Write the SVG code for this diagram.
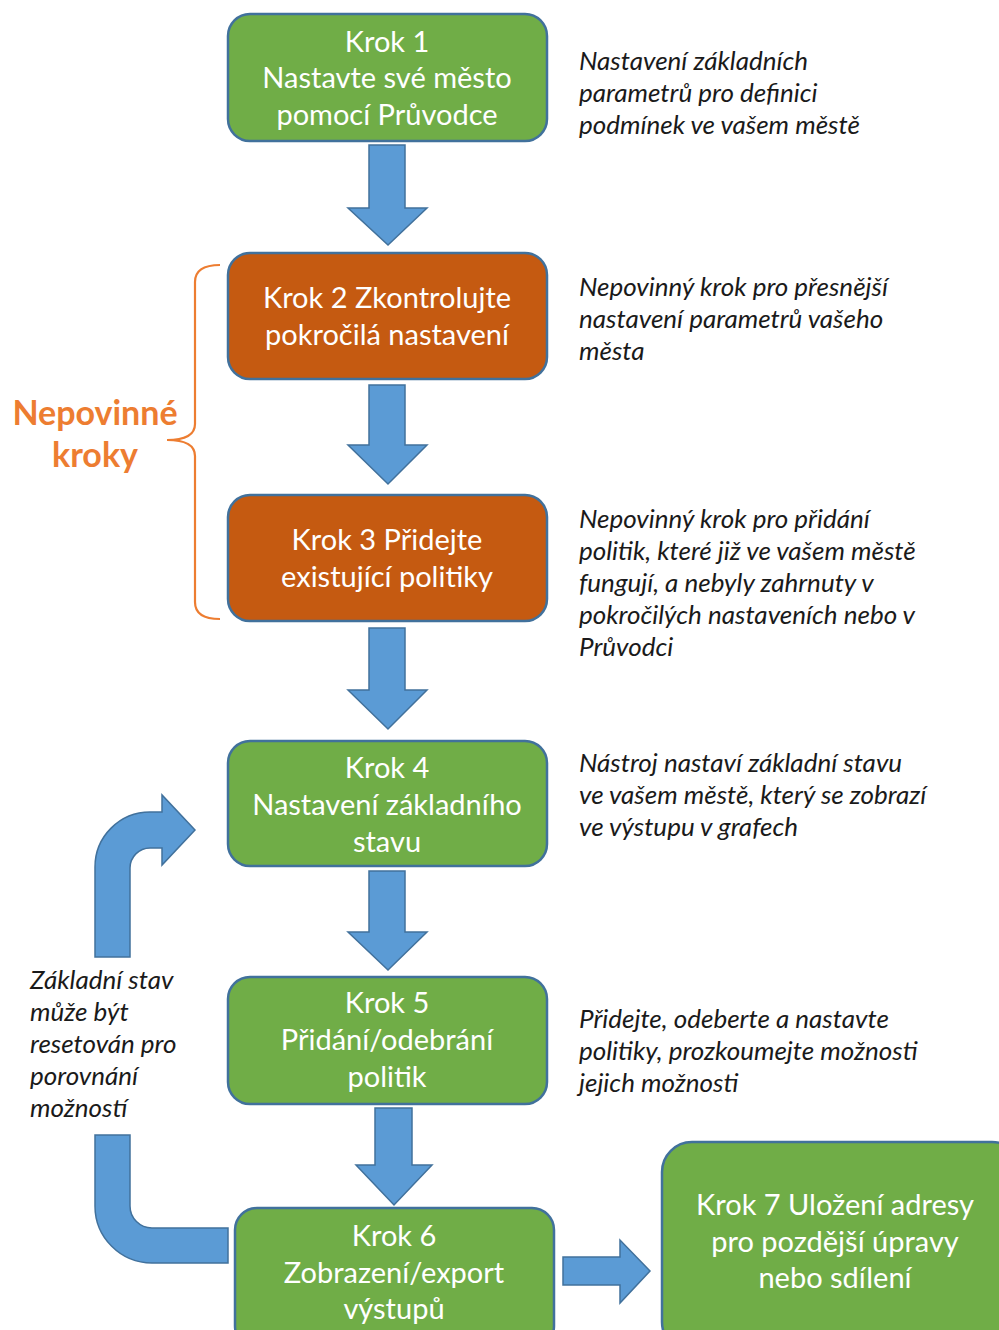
<svg xmlns="http://www.w3.org/2000/svg" width="999" height="1330" viewBox="0 0 999 1330">
<style>
.g{fill:#70AD47;stroke:#41719C;stroke-width:2.5}
.o{fill:#C55A11;stroke:#41719C;stroke-width:2.5}
.a{fill:#5B9BD5;stroke:#41719C;stroke-width:1.5}
.t{font-family:Lato,"Open Sans",sans-serif;font-size:29px;fill:#ffffff;text-anchor:middle}
.n{font-family:Lato,"Open Sans",sans-serif;font-style:italic;font-size:26px;fill:#1a1a1a}
.b{font-family:Lato,"Open Sans",sans-serif;font-weight:bold;font-size:34px;fill:#ED7D31;text-anchor:middle}
</style>
<rect width="999" height="1330" fill="#ffffff"/>
<g id="connectors">
<path class="a" d="M369 145 H405 V208 H427 L388 245 L348 208 H369 Z"/>
<path class="a" d="M369 385 H405 V445 H427 L388 484 L348 445 H369 Z"/>
<path class="a" d="M369 628 H405 V690 H427 L388 729 L348 690 H369 Z"/>
<path class="a" d="M369 871 H405 V932 H427 L388 970 L348 932 H369 Z"/>
<path class="a" d="M375 1108 H412 V1165 H432 L394 1205 L356 1165 H375 Z"/>
<path class="a" d="M563 1257 H620 V1240 L650 1271 L620 1303 V1285 H563 Z"/>
<path class="a" d="M95 957 V867 A55 55 0 0 1 150 812 H162 V795 L195 830 L162 865 V848 H150 A20 20 0 0 0 130 868 V957 Z"/>
<path class="a" d="M95 1135 H130 V1206 A22 22 0 0 0 152 1228 H228 V1263 H152 A57 57 0 0 1 95 1206 Z"/>
</g>
<g id="brace">
<path d="M220 265 Q195 265 195 282 V424 Q195 440 167 440 Q195 440 195 456 V602 Q195 619 220 619" fill="none" stroke="#ED7D31" stroke-width="2.2"/>
<text class="b" x="95" y="425">Nepovinné</text>
<text class="b" x="95" y="467">kroky</text>
</g>
<g id="step1">
<rect class="g" x="228" y="14" width="319" height="127" rx="22"/>
<text class="t" x="387" y="52">Krok 1</text>
<text class="t" x="387" y="88">Nastavte své město</text>
<text class="t" x="387" y="125">pomocí Průvodce</text>
</g>
<g id="step2">
<rect class="o" x="228" y="253" width="319" height="126" rx="22"/>
<text class="t" x="387" y="308">Krok 2 Zkontrolujte</text>
<text class="t" x="387" y="345">pokročilá nastavení</text>
</g>
<g id="step3">
<rect class="o" x="228" y="495" width="319" height="126" rx="22"/>
<text class="t" x="387" y="550">Krok 3 Přidejte</text>
<text class="t" x="387" y="587">existující politiky</text>
</g>
<g id="step4">
<rect class="g" x="228" y="741" width="319" height="125" rx="22"/>
<text class="t" x="387" y="778">Krok 4</text>
<text class="t" x="387" y="815">Nastavení základního</text>
<text class="t" x="387" y="852">stavu</text>
</g>
<g id="step5">
<rect class="g" x="228" y="977" width="319" height="127" rx="22"/>
<text class="t" x="387" y="1013">Krok 5</text>
<text class="t" x="387" y="1050">Přidání/odebrání</text>
<text class="t" x="387" y="1087">politik</text>
</g>
<g id="step6">
<rect class="g" x="235" y="1208" width="319" height="140" rx="22"/>
<text class="t" x="394" y="1246">Krok 6</text>
<text class="t" x="394" y="1283">Zobrazení/export</text>
<text class="t" x="394" y="1319">výstupů</text>
</g>
<g id="step7">
<rect class="g" x="662" y="1142" width="360" height="210" rx="30"/>
<text class="t" x="835" y="1215">Krok 7 Uložení adresy</text>
<text class="t" x="835" y="1252">pro pozdější úpravy</text>
<text class="t" x="835" y="1288">nebo sdílení</text>
</g>
<g id="notes">
<text class="n" x="579" y="70">Nastavení základních</text>
<text class="n" x="579" y="102">parametrů pro definici</text>
<text class="n" x="579" y="134">podmínek ve vašem městě</text>
<text class="n" x="579" y="296">Nepovinný krok pro přesnější</text>
<text class="n" x="579" y="328">nastavení parametrů vašeho</text>
<text class="n" x="579" y="360">města</text>
<text class="n" x="579" y="528">Nepovinný krok pro přidání</text>
<text class="n" x="579" y="560">politik, které již ve vašem městě</text>
<text class="n" x="579" y="592">fungují, a nebyly zahrnuty v</text>
<text class="n" x="579" y="624">pokročilých nastaveních nebo v</text>
<text class="n" x="579" y="656">Průvodci</text>
<text class="n" x="579" y="772">Nástroj nastaví základní stavu</text>
<text class="n" x="579" y="804">ve vašem městě, který se zobrazí</text>
<text class="n" x="579" y="836">ve výstupu v grafech</text>
<text class="n" x="579" y="1028">Přidejte, odeberte a nastavte</text>
<text class="n" x="579" y="1060">politiky, prozkoumejte možnosti</text>
<text class="n" x="579" y="1092">jejich možnosti</text>
<text class="n" x="30" y="989">Základní stav</text>
<text class="n" x="30" y="1021">může být</text>
<text class="n" x="30" y="1053">resetován pro</text>
<text class="n" x="30" y="1085">porovnání</text>
<text class="n" x="30" y="1117">možností</text>
</g>
</svg>
